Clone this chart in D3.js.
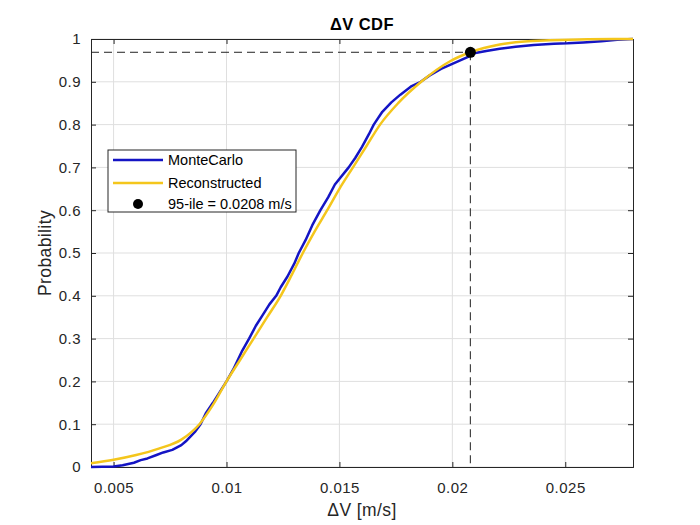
<!DOCTYPE html>
<html lang="en">

<head>
    <meta charset="utf-8">
    <title>dV CDF</title>
    <script src="https://cdn.jsdelivr.net/npm/d3@7"></script>
    <style>
        body {
            margin: 0;
            background: #fff;
        }

        svg text {
            font-family: "Liberation Sans", Arial, sans-serif;
            fill: #262626;
        }
    </style>
</head>

<body>
    <div id="chart"></div>

    <script type="text/javascript">
        // MonteCarlo empirical CDF
        var mcDv = [0.0040, 0.0050, 0.0054, 0.0059, 0.0062, 0.0065, 0.0069, 0.0072, 0.0076, 0.0080,
            0.0082, 0.0084, 0.0086, 0.00885, 0.0091, 0.0094, 0.0097, 0.0100, 0.0103, 0.0105,
            0.0107, 0.0110, 0.0113, 0.0116, 0.0119, 0.0122, 0.0124, 0.0127, 0.0130, 0.0132,
            0.0135, 0.0138, 0.01416, 0.0145, 0.0148, 0.01541, 0.0157, 0.0160, 0.0163, 0.01652,
            0.0169, 0.0173, 0.0177, 0.0182, 0.0186, 0.0190, 0.0195, 0.0200, 0.0204, 0.0207,
            0.0209, 0.0215, 0.0221, 0.0228, 0.0236, 0.0245, 0.0251, 0.0258, 0.0266, 0.0273, 0.0280];
        var mcProb = [0.000, 0.001, 0.004, 0.010, 0.016, 0.020, 0.028, 0.034, 0.040, 0.051,
            0.060, 0.071, 0.082, 0.100, 0.127, 0.150, 0.175, 0.200, 0.228, 0.250,
            0.272, 0.300, 0.330, 0.355, 0.380, 0.400, 0.420, 0.445, 0.475, 0.500,
            0.530, 0.565, 0.600, 0.630, 0.660, 0.700, 0.722, 0.748, 0.777, 0.800,
            0.830, 0.852, 0.870, 0.890, 0.900, 0.915, 0.930, 0.942, 0.951, 0.958,
            0.966, 0.972, 0.977, 0.982, 0.986, 0.989, 0.990, 0.992, 0.995, 0.998, 1.000];

        // reconstructed CDF
        var recDv = [0.0040, 0.0050, 0.0060, 0.0070, 0.0080, 0.0088, 0.0094, 0.0100, 0.0106, 0.0112,
            0.0118, 0.0124, 0.0129, 0.01338, 0.0139, 0.01446, 0.0150, 0.0156, 0.0162, 0.0168,
            0.0176, 0.01862, 0.0199, 0.0208, 0.0221, 0.0232, 0.0243, 0.0260, 0.0280];
        var recProb = [0.009, 0.017, 0.028, 0.043, 0.064, 0.100, 0.145, 0.200, 0.250, 0.300,
            0.350, 0.400, 0.450, 0.500, 0.550, 0.600, 0.650, 0.700, 0.750, 0.800,
            0.850, 0.900, 0.948, 0.969, 0.987, 0.994, 0.997, 0.9995, 1.000];

        var pctDv = 0.0208;
        var pctProb = 0.969;

        var xTicks = [0.005, 0.01, 0.015, 0.02, 0.025];
        var xTickLabels = ["0.005", "0.01", "0.015", "0.02", "0.025"];
        var yTicks = [0, 0.1, 0.2, 0.3, 0.4, 0.5, 0.6, 0.7, 0.8, 0.9, 1];
        var yTickLabels = ["0", "0.1", "0.2", "0.3", "0.4", "0.5", "0.6", "0.7", "0.8", "0.9", "1"];

        var legendNames = ["MonteCarlo", "Reconstructed", "95-ile = 0.0208 m/s"];

        var width = 700, height = 525;
        var plotLeft = 91, plotRight = 633, plotTop = 39, plotBottom = 467;
        var blue = "#1414c4", yellow = "#f4c61c", axisColor = "#262626";

        var svg = d3.select('#chart')
            .append('svg')
            .attr('width', width)
            .attr('height', height);

        svg.append('rect').attr('width', width).attr('height', height).attr('fill', '#fff');

        var x = d3.scaleLinear().domain([0.004, 0.028]).range([plotLeft, plotRight]);
        var y = d3.scaleLinear().domain([0, 1]).range([plotBottom, plotTop]);

        // grid
        svg.append('g')
            .selectAll('line')
            .data(xTicks)
            .enter().append('line')
            .attr('x1', d => x(d)).attr('x2', d => x(d))
            .attr('y1', plotTop).attr('y2', plotBottom)
            .attr('stroke', '#dfdfdf').attr('stroke-width', 1);
        svg.append('g')
            .selectAll('line')
            .data(yTicks)
            .enter().append('line')
            .attr('x1', plotLeft).attr('x2', plotRight)
            .attr('y1', d => y(d)).attr('y2', d => y(d))
            .attr('stroke', '#dfdfdf').attr('stroke-width', 1);

        // axes (ticks inside, box on)
        var xAxis = d3.axisBottom(x).tickValues(xTicks).tickSize(-5).tickPadding(15)
            .tickFormat((d, i) => xTickLabels[i]);
        var yAxis = d3.axisLeft(y).tickValues(yTicks).tickSize(-5).tickPadding(10)
            .tickFormat((d, i) => yTickLabels[i]);

        var gx = svg.append('g').attr('transform', `translate(0,${plotBottom})`).call(xAxis);
        var gy = svg.append('g').attr('transform', `translate(${plotLeft},0)`).call(yAxis);
        var gxTop = svg.append('g').attr('transform', `translate(0,${plotTop})`)
            .call(d3.axisTop(x).tickValues(xTicks).tickSize(-5).tickFormat(''));
        var gyRight = svg.append('g').attr('transform', `translate(${plotRight},0)`)
            .call(d3.axisRight(y).tickValues(yTicks).tickSize(-5).tickFormat(''));

        [gx, gy, gxTop, gyRight].forEach(g => {
            g.select('.domain').attr('stroke', axisColor);
            g.selectAll('.tick line').attr('stroke', axisColor);
            g.selectAll('.tick text')
                .style('font-size', '15px')
                .style('letter-spacing', '0.5px')
                .style('font-family', '"Liberation Sans", Arial, sans-serif')
                .attr('fill', axisColor);
        });

        // curves
        var mcData = mcDv.map((d, i) => [d, mcProb[i]]);
        var recData = recDv.map((d, i) => [d, recProb[i]]);

        svg.append('path')
            .datum(mcData)
            .attr('d', d3.line().x(d => x(d[0])).y(d => y(d[1])))
            .attr('fill', 'none')
            .attr('stroke', blue)
            .attr('stroke-width', 2.5)
            .attr('stroke-linejoin', 'round');

        svg.append('path')
            .datum(recData)
            .attr('d', d3.line().x(d => x(d[0])).y(d => y(d[1])).curve(d3.curveMonotoneX))
            .attr('fill', 'none')
            .attr('stroke', yellow)
            .attr('stroke-width', 2.5);

        // percentile markers
        svg.append('line')
            .attr('x1', plotLeft).attr('x2', x(pctDv))
            .attr('y1', y(pctProb)).attr('y2', y(pctProb))
            .attr('stroke', '#222').attr('stroke-width', 1)
            .attr('stroke-dasharray', '8,5');
        svg.append('line')
            .attr('x1', x(pctDv)).attr('x2', x(pctDv))
            .attr('y1', y(pctProb)).attr('y2', plotBottom)
            .attr('stroke', '#444').attr('stroke-width', 1.2)
            .attr('stroke-dasharray', '8,5');
        svg.append('circle')
            .attr('cx', x(pctDv)).attr('cy', y(pctProb))
            .attr('r', 5.5)
            .attr('fill', '#000');

        // title & labels
        svg.append('text')
            .attr('x', (plotLeft + plotRight) / 2).attr('y', 30)
            .attr('text-anchor', 'middle')
            .style('font-size', '16.5px')
            .style('font-weight', 'bold')
            .style('letter-spacing', '0.4px')
            .style('fill', '#000')
            .text('\u0394V CDF');
        svg.append('text')
            .attr('x', (plotLeft + plotRight) / 2).attr('y', 516)
            .attr('text-anchor', 'middle')
            .style('font-size', '17.5px')
            .style('letter-spacing', '0.4px')
            .text('\u0394V [m/s]');
        svg.append('text')
            .attr('transform', `translate(51,${(plotTop + plotBottom) / 2}) rotate(-90)`)
            .attr('text-anchor', 'middle')
            .style('font-size', '17.5px')
            .style('letter-spacing', '0.4px')
            .text('Probability');

        // legend
        var lg = svg.append('g').attr('transform', 'translate(108,150)');
        lg.append('rect')
            .attr('width', 188).attr('height', 62)
            .attr('fill', '#fff')
            .attr('stroke', axisColor).attr('stroke-width', 1);
        var rowY = [10, 33, 54];
        lg.append('line').attr('x1', 5).attr('x2', 55).attr('y1', rowY[0]).attr('y2', rowY[0])
            .attr('stroke', blue).attr('stroke-width', 2.5);
        lg.append('line').attr('x1', 5).attr('x2', 55).attr('y1', rowY[1]).attr('y2', rowY[1])
            .attr('stroke', yellow).attr('stroke-width', 2.5);
        lg.append('circle').attr('cx', 30).attr('cy', rowY[2]).attr('r', 5).attr('fill', '#000');
        lg.selectAll('text')
            .data(legendNames)
            .enter().append('text')
            .attr('x', 60)
            .attr('y', (d, i) => rowY[i] + 5)
            .style('font-size', '14.5px')
            .style('fill', '#000')
            .text(d => d);
    </script>
</body>

</html>
